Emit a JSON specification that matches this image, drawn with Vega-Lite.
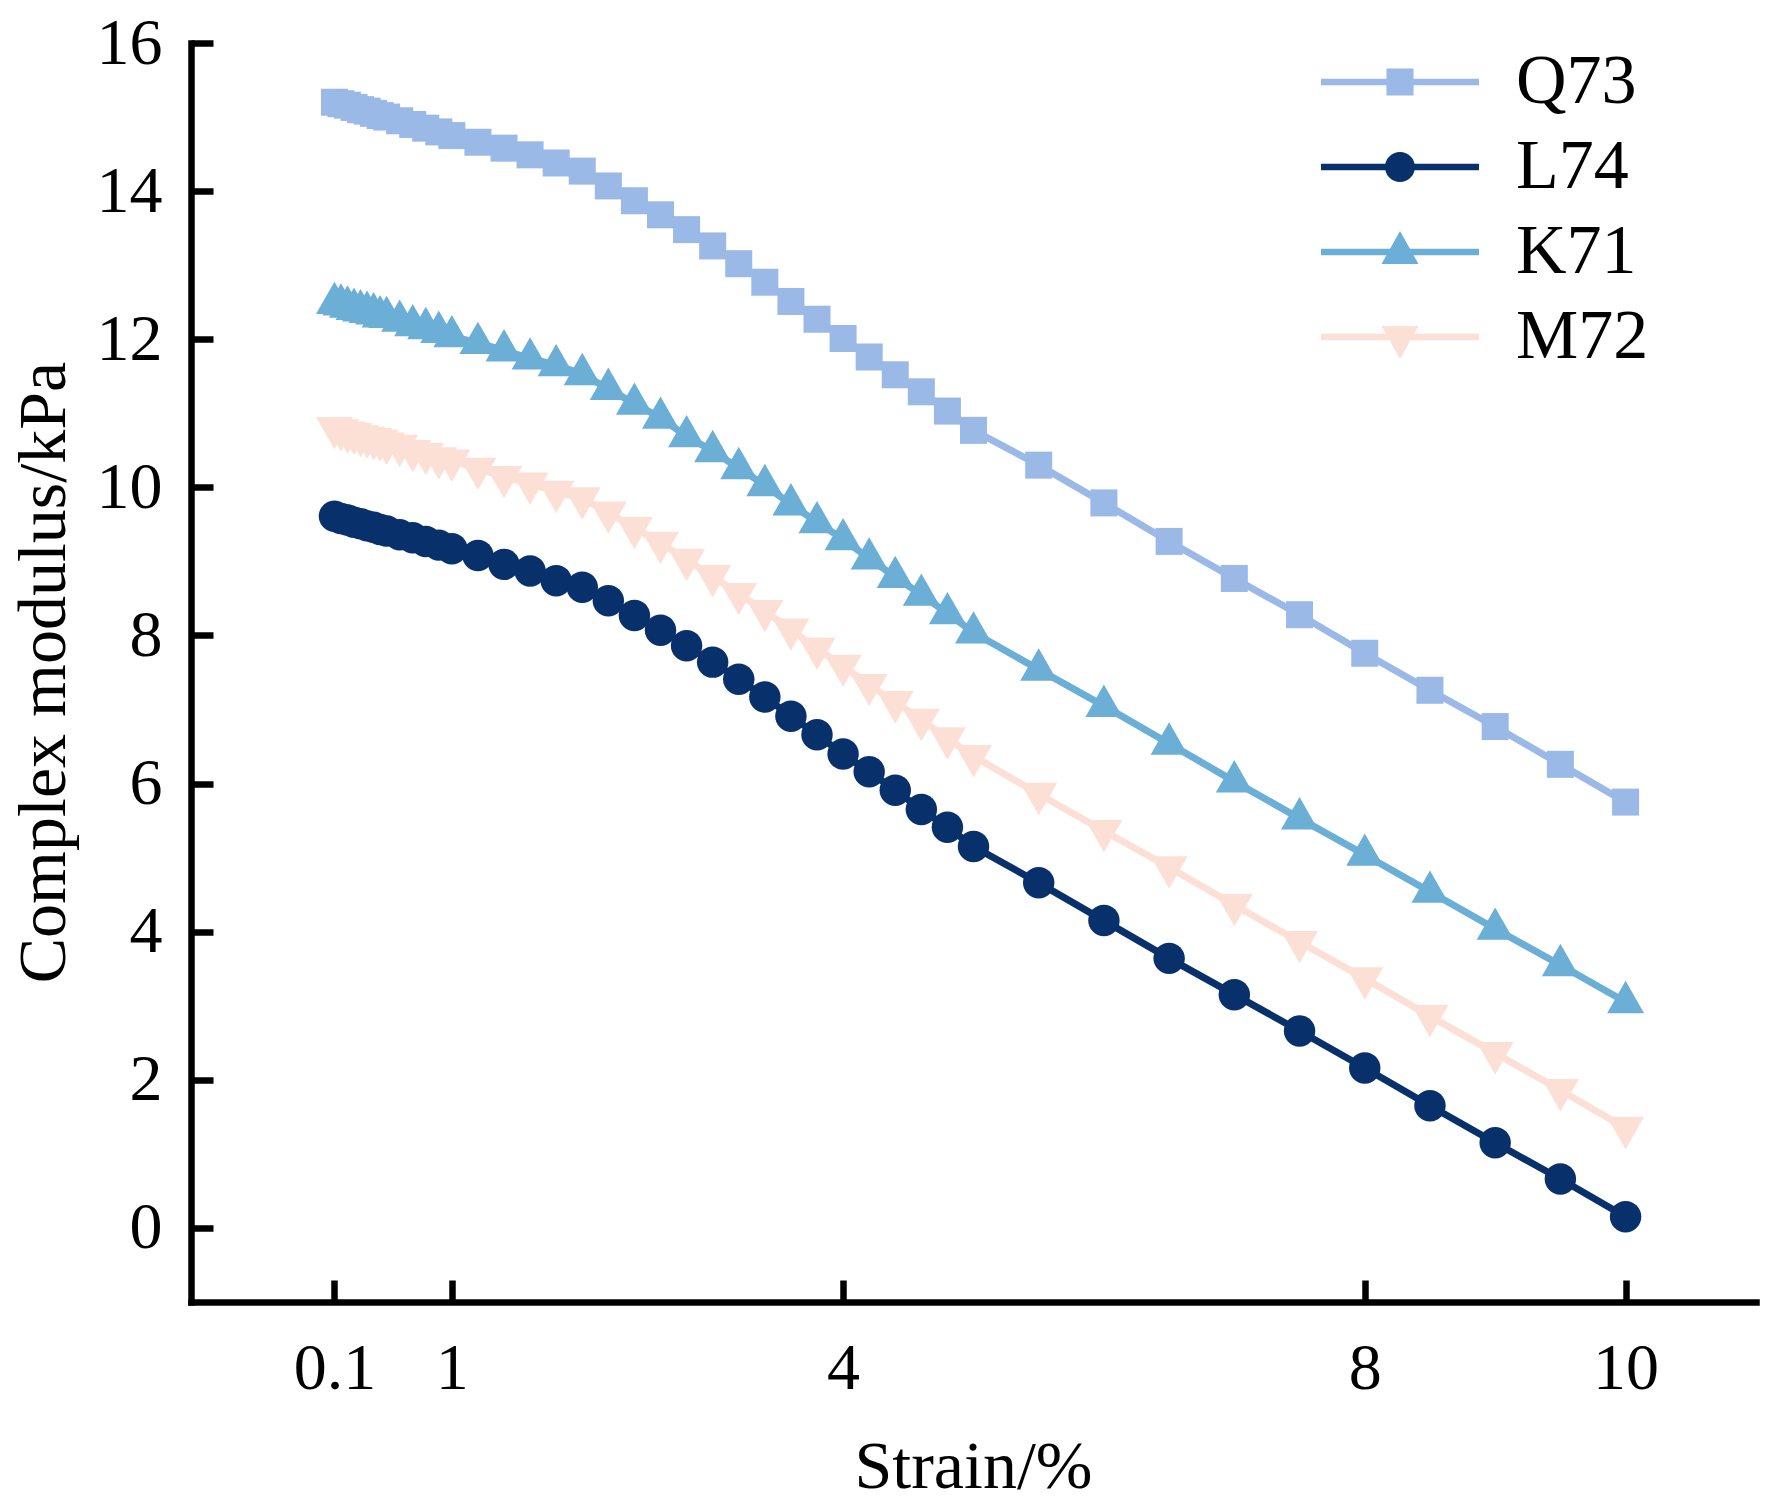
{
  "$schema": "https://vega.github.io/schema/vega-lite/v6.json",
  "width": 1565,
  "height": 1259,
  "autosize": "none",
  "padding": {"left": 191, "top": 43, "right": 20, "bottom": 208},
  "config": {
    "view": {"stroke": null},
    "font": "Liberation Serif",
    "axis": {
      "grid": false,
      "domainColor": "black",
      "domainWidth": 6.5,
      "domainCap": "square",
      "tickColor": "black",
      "tickWidth": 6.5,
      "tickSize": -22,
      "labelFont": "Liberation Serif",
      "labelFontSize": 66,
      "labelColor": "black",
      "titleFont": "Liberation Serif",
      "titleFontSize": 68,
      "titleFontWeight": "normal",
      "titleColor": "black"
    }
  },
  "data": {
    "values": [
      {"s": "Q73", "x": 0.1, "y": 15.2}, {"s": "Q73", "x": 0.15, "y": 15.18}, {"s": "Q73", "x": 0.2, "y": 15.16}, {"s": "Q73", "x": 0.25, "y": 15.13},
      {"s": "Q73", "x": 0.3, "y": 15.1}, {"s": "Q73", "x": 0.35, "y": 15.08}, {"s": "Q73", "x": 0.4, "y": 15.05}, {"s": "Q73", "x": 0.45, "y": 15.02},
      {"s": "Q73", "x": 0.5, "y": 15.0}, {"s": "Q73", "x": 0.6, "y": 14.95}, {"s": "Q73", "x": 0.7, "y": 14.9}, {"s": "Q73", "x": 0.8, "y": 14.85},
      {"s": "Q73", "x": 0.9, "y": 14.8}, {"s": "Q73", "x": 1.0, "y": 14.75}, {"s": "Q73", "x": 1.2, "y": 14.66}, {"s": "Q73", "x": 1.4, "y": 14.58},
      {"s": "Q73", "x": 1.6, "y": 14.49}, {"s": "Q73", "x": 1.8, "y": 14.38}, {"s": "Q73", "x": 2.0, "y": 14.27}, {"s": "Q73", "x": 2.2, "y": 14.07},
      {"s": "Q73", "x": 2.4, "y": 13.87}, {"s": "Q73", "x": 2.6, "y": 13.68}, {"s": "Q73", "x": 2.8, "y": 13.48}, {"s": "Q73", "x": 3.0, "y": 13.26},
      {"s": "Q73", "x": 3.2, "y": 13.02}, {"s": "Q73", "x": 3.4, "y": 12.77}, {"s": "Q73", "x": 3.6, "y": 12.51}, {"s": "Q73", "x": 3.8, "y": 12.27},
      {"s": "Q73", "x": 4.0, "y": 12.01}, {"s": "Q73", "x": 4.2, "y": 11.76}, {"s": "Q73", "x": 4.4, "y": 11.52}, {"s": "Q73", "x": 4.6, "y": 11.29},
      {"s": "Q73", "x": 4.8, "y": 11.03}, {"s": "Q73", "x": 5.0, "y": 10.77}, {"s": "Q73", "x": 5.5, "y": 10.3}, {"s": "Q73", "x": 6.0, "y": 9.79},
      {"s": "Q73", "x": 6.5, "y": 9.27}, {"s": "Q73", "x": 7.0, "y": 8.77}, {"s": "Q73", "x": 7.5, "y": 8.28}, {"s": "Q73", "x": 8.0, "y": 7.76},
      {"s": "Q73", "x": 8.5, "y": 7.26}, {"s": "Q73", "x": 9.0, "y": 6.77}, {"s": "Q73", "x": 9.5, "y": 6.26}, {"s": "Q73", "x": 10.0, "y": 5.75},

      {"s": "L74", "x": 0.1, "y": 9.61}, {"s": "L74", "x": 0.15, "y": 9.58}, {"s": "L74", "x": 0.2, "y": 9.56}, {"s": "L74", "x": 0.25, "y": 9.53},
      {"s": "L74", "x": 0.3, "y": 9.51}, {"s": "L74", "x": 0.35, "y": 9.48}, {"s": "L74", "x": 0.4, "y": 9.46}, {"s": "L74", "x": 0.45, "y": 9.43},
      {"s": "L74", "x": 0.5, "y": 9.41}, {"s": "L74", "x": 0.6, "y": 9.36}, {"s": "L74", "x": 0.7, "y": 9.32}, {"s": "L74", "x": 0.8, "y": 9.27},
      {"s": "L74", "x": 0.9, "y": 9.22}, {"s": "L74", "x": 1.0, "y": 9.17}, {"s": "L74", "x": 1.2, "y": 9.08}, {"s": "L74", "x": 1.4, "y": 8.96},
      {"s": "L74", "x": 1.6, "y": 8.87}, {"s": "L74", "x": 1.8, "y": 8.74}, {"s": "L74", "x": 2.0, "y": 8.65}, {"s": "L74", "x": 2.2, "y": 8.47},
      {"s": "L74", "x": 2.4, "y": 8.27}, {"s": "L74", "x": 2.6, "y": 8.07}, {"s": "L74", "x": 2.8, "y": 7.86}, {"s": "L74", "x": 3.0, "y": 7.64},
      {"s": "L74", "x": 3.2, "y": 7.41}, {"s": "L74", "x": 3.4, "y": 7.17}, {"s": "L74", "x": 3.6, "y": 6.91}, {"s": "L74", "x": 3.8, "y": 6.66},
      {"s": "L74", "x": 4.0, "y": 6.4}, {"s": "L74", "x": 4.2, "y": 6.16}, {"s": "L74", "x": 4.4, "y": 5.91}, {"s": "L74", "x": 4.6, "y": 5.65},
      {"s": "L74", "x": 4.8, "y": 5.41}, {"s": "L74", "x": 5.0, "y": 5.15}, {"s": "L74", "x": 5.5, "y": 4.66}, {"s": "L74", "x": 6.0, "y": 4.15},
      {"s": "L74", "x": 6.5, "y": 3.64}, {"s": "L74", "x": 7.0, "y": 3.15}, {"s": "L74", "x": 7.5, "y": 2.66}, {"s": "L74", "x": 8.0, "y": 2.16},
      {"s": "L74", "x": 8.5, "y": 1.65}, {"s": "L74", "x": 9.0, "y": 1.15}, {"s": "L74", "x": 9.5, "y": 0.66}, {"s": "L74", "x": 10.0, "y": 0.15},

      {"s": "K71", "x": 0.1, "y": 12.49}, {"s": "K71", "x": 0.15, "y": 12.47}, {"s": "K71", "x": 0.2, "y": 12.44}, {"s": "K71", "x": 0.25, "y": 12.41},
      {"s": "K71", "x": 0.3, "y": 12.39}, {"s": "K71", "x": 0.35, "y": 12.37}, {"s": "K71", "x": 0.4, "y": 12.35}, {"s": "K71", "x": 0.45, "y": 12.31},
      {"s": "K71", "x": 0.5, "y": 12.3}, {"s": "K71", "x": 0.6, "y": 12.25}, {"s": "K71", "x": 0.7, "y": 12.19}, {"s": "K71", "x": 0.8, "y": 12.15},
      {"s": "K71", "x": 0.9, "y": 12.1}, {"s": "K71", "x": 1.0, "y": 12.04}, {"s": "K71", "x": 1.2, "y": 11.95}, {"s": "K71", "x": 1.4, "y": 11.85},
      {"s": "K71", "x": 1.6, "y": 11.74}, {"s": "K71", "x": 1.8, "y": 11.65}, {"s": "K71", "x": 2.0, "y": 11.53}, {"s": "K71", "x": 2.2, "y": 11.33},
      {"s": "K71", "x": 2.4, "y": 11.13}, {"s": "K71", "x": 2.6, "y": 10.94}, {"s": "K71", "x": 2.8, "y": 10.69}, {"s": "K71", "x": 3.0, "y": 10.49},
      {"s": "K71", "x": 3.2, "y": 10.26}, {"s": "K71", "x": 3.4, "y": 10.03}, {"s": "K71", "x": 3.6, "y": 9.77}, {"s": "K71", "x": 3.8, "y": 9.53},
      {"s": "K71", "x": 4.0, "y": 9.3}, {"s": "K71", "x": 4.2, "y": 9.04}, {"s": "K71", "x": 4.4, "y": 8.79}, {"s": "K71", "x": 4.6, "y": 8.55},
      {"s": "K71", "x": 4.8, "y": 8.3}, {"s": "K71", "x": 5.0, "y": 8.04}, {"s": "K71", "x": 5.5, "y": 7.54}, {"s": "K71", "x": 6.0, "y": 7.05},
      {"s": "K71", "x": 6.5, "y": 6.54}, {"s": "K71", "x": 7.0, "y": 6.03}, {"s": "K71", "x": 7.5, "y": 5.53}, {"s": "K71", "x": 8.0, "y": 5.04},
      {"s": "K71", "x": 8.5, "y": 4.54}, {"s": "K71", "x": 9.0, "y": 4.04}, {"s": "K71", "x": 9.5, "y": 3.55}, {"s": "K71", "x": 10.0, "y": 3.05},

      {"s": "M72", "x": 0.1, "y": 10.8}, {"s": "M72", "x": 0.15, "y": 10.77}, {"s": "M72", "x": 0.2, "y": 10.74}, {"s": "M72", "x": 0.25, "y": 10.72},
      {"s": "M72", "x": 0.3, "y": 10.69}, {"s": "M72", "x": 0.35, "y": 10.67}, {"s": "M72", "x": 0.4, "y": 10.65}, {"s": "M72", "x": 0.45, "y": 10.63},
      {"s": "M72", "x": 0.5, "y": 10.59}, {"s": "M72", "x": 0.6, "y": 10.56}, {"s": "M72", "x": 0.7, "y": 10.49}, {"s": "M72", "x": 0.8, "y": 10.45},
      {"s": "M72", "x": 0.9, "y": 10.39}, {"s": "M72", "x": 1.0, "y": 10.36}, {"s": "M72", "x": 1.2, "y": 10.25}, {"s": "M72", "x": 1.4, "y": 10.14},
      {"s": "M72", "x": 1.6, "y": 10.05}, {"s": "M72", "x": 1.8, "y": 9.94}, {"s": "M72", "x": 2.0, "y": 9.85}, {"s": "M72", "x": 2.2, "y": 9.66},
      {"s": "M72", "x": 2.4, "y": 9.45}, {"s": "M72", "x": 2.6, "y": 9.25}, {"s": "M72", "x": 2.8, "y": 9.02}, {"s": "M72", "x": 3.0, "y": 8.8},
      {"s": "M72", "x": 3.2, "y": 8.56}, {"s": "M72", "x": 3.4, "y": 8.33}, {"s": "M72", "x": 3.6, "y": 8.08}, {"s": "M72", "x": 3.8, "y": 7.82},
      {"s": "M72", "x": 4.0, "y": 7.59}, {"s": "M72", "x": 4.2, "y": 7.33}, {"s": "M72", "x": 4.4, "y": 7.1}, {"s": "M72", "x": 4.6, "y": 6.86},
      {"s": "M72", "x": 4.8, "y": 6.61}, {"s": "M72", "x": 5.0, "y": 6.37}, {"s": "M72", "x": 5.5, "y": 5.86}, {"s": "M72", "x": 6.0, "y": 5.36},
      {"s": "M72", "x": 6.5, "y": 4.87}, {"s": "M72", "x": 7.0, "y": 4.36}, {"s": "M72", "x": 7.5, "y": 3.86}, {"s": "M72", "x": 8.0, "y": 3.37},
      {"s": "M72", "x": 8.5, "y": 2.86}, {"s": "M72", "x": 9.0, "y": 2.36}, {"s": "M72", "x": 9.5, "y": 1.86}, {"s": "M72", "x": 10.0, "y": 1.35}
    ]
  },
  "encoding": {
    "x": {
      "field": "x",
      "type": "quantitative",
      "scale": {"domain": [-1, 11], "nice": false, "zero": false},
      "axis": {
        "values": [0.1, 1, 4, 8, 10],
        "format": ".1~f",
        "labelPadding": 56,
        "title": "Strain/%",
        "titleX": 782,
        "titleY": 185,
        "titleBaseline": "alphabetic"
      }
    },
    "y": {
      "field": "y",
      "type": "quantitative",
      "scale": {"domain": [-1, 16], "nice": false, "zero": false},
      "axis": {
        "values": [0, 2, 4, 6, 8, 10, 12, 14, 16],
        "format": "d",
        "labelPadding": 51,
        "title": "Complex modulus/kPa",
        "titleX": -113,
        "titleY": 629,
        "titleAngle": -90,
        "titleBaseline": "bottom"
      }
    },
    "color": {
      "field": "s",
      "type": "nominal",
      "scale": {
        "domain": ["Q73", "L74", "K71", "M72"],
        "range": ["#9ab9e7", "#08306b", "#6baed6", "#fde0d5"]
      },
      "legend": {
        "title": null,
        "orient": "none",
        "legendX": 1130,
        "legendY": 4,
        "padding": 0,
        "clipHeight": 70,
        "symbolSize": 4900,
        "symbolStrokeWidth": 0,
        "symbolOpacity": 1,
        "labelFont": "Liberation Serif",
        "labelFontSize": 70,
        "labelColor": "black",
        "labelOffset": 37,
        "rowPadding": 15,
        "encode": {
          "symbols": {
            "update": {
              "fill": {"scale": "color", "field": "value"},
              "stroke": {"value": "transparent"},
              "strokeWidth": {"value": 0},
              "size": {"value": 24964},
              "shape": {"signal": "datum.value === 'Q73' ? 'M-1,-0.04L1,-0.04L1,0.04L-1,0.04ZM-0.171,-0.171L0.171,-0.171L0.171,0.171L-0.171,0.171Z' : datum.value === 'L74' ? 'M-1,-0.04L1,-0.04L1,0.04L-1,0.04ZM0.19,0A0.19,0.19,0,1,1,-0.19,0A0.19,0.19,0,1,1,0.19,0Z' : datum.value === 'K71' ? 'M-1,-0.04L1,-0.04L1,0.04L-1,0.04ZM0,-0.266L0.234,0.152L-0.234,0.152Z' : 'M-1,-0.04L1,-0.04L1,0.04L-1,0.04ZM0,0.278L-0.234,-0.139L0.234,-0.139Z'"}
            }
          }
        }
      }
    }
  },
  "layer": [
    {
      "mark": {"type": "line", "strokeWidth": 7}
    },
    {
      "transform": [{"filter": "datum.s === 'Q73'"}],
      "mark": {"type": "point", "filled": true, "opacity": 1, "size": 1369, "strokeWidth": 0, "shape": "M-0.73,-0.73L0.73,-0.73L0.73,0.73L-0.73,0.73Z"}
    },
    {
      "transform": [{"filter": "datum.s === 'L74'"}],
      "mark": {"type": "point", "filled": true, "opacity": 1, "size": 1369, "strokeWidth": 0, "shape": "M0.85,0A0.85,0.85,0,1,1,-0.85,0A0.85,0.85,0,1,1,0.85,0Z"}
    },
    {
      "transform": [{"filter": "datum.s === 'K71'"}],
      "mark": {"type": "point", "filled": true, "opacity": 1, "size": 1369, "strokeWidth": 0, "shape": "M0,-1.15L1,0.6L-1,0.6Z"}
    },
    {
      "transform": [{"filter": "datum.s === 'M72'"}],
      "mark": {"type": "point", "filled": true, "opacity": 1, "size": 1369, "strokeWidth": 0, "shape": "M0,1.15L-1,-0.6L1,-0.6Z"}
    }
  ]
}
